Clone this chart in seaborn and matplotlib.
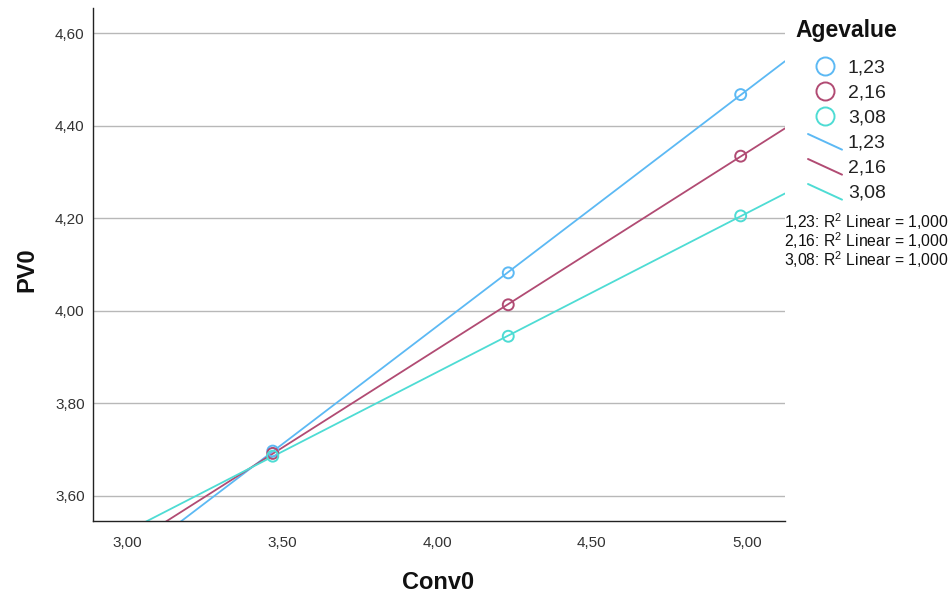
import numpy as np
import pandas as pd
import seaborn as sns
import matplotlib.pyplot as plt
from matplotlib.lines import Line2D
from matplotlib.legend_handler import HandlerBase

# ---- data ----
age_levels = ["1,23", "2,16", "3,08"]
conv0 = [3.47, 4.23, 4.98]
pv0_age1 = [3.697, 4.082, 4.467]
pv0_age2 = [3.692, 4.013, 4.334]
pv0_age3 = [3.686, 3.945, 4.205]
r2_labels = ["1,23: $\\mathregular{R^2}$ Linear = 1,000",
             "2,16: $\\mathregular{R^2}$ Linear = 1,000",
             "3,08: $\\mathregular{R^2}$ Linear = 1,000"]
xticks = [3.0, 3.5, 4.0, 4.5, 5.0]
xticklabels = ["3,00", "3,50", "4,00", "4,50", "5,00"]
yticks = [3.6, 3.8, 4.0, 4.2, 4.4, 4.6]
yticklabels = ["3,60", "3,80", "4,00", "4,20", "4,40", "4,60"]
colors = ["#5CB9F4", "#B14B73", "#4EDCD4"]

df = pd.DataFrame({
    "Conv0": conv0 * 3,
    "PV0": pv0_age1 + pv0_age2 + pv0_age3,
    "Agevalue": [a for a in age_levels for _ in conv0],
})

sns.set_theme(style="white")
plt.rcParams['font.family'] = ['Liberation Sans', 'DejaVu Sans']
plt.rcParams['mathtext.fontset'] = 'custom'
plt.rcParams['mathtext.rm'] = 'Liberation Sans'

fig = plt.figure(figsize=(9.51, 5.97), dpi=100)
ax = fig.add_axes([93 / 951, 1 - 521 / 597, 692 / 951, 513 / 597])
ax.set_xlim(2.89, 5.123)
ax.set_ylim(3.546, 4.654)

ax.set_yticks(yticks)
ax.set_yticklabels(yticklabels)
ax.set_xticks(xticks)
ax.set_xticklabels(xticklabels)
ax.yaxis.grid(True, color="#B8B8B8", lw=1.0)
ax.xaxis.grid(False)
ax.set_axisbelow(True)

for lvl, c in zip(age_levels, colors):
    sub = df[df["Agevalue"] == lvl]
    sns.regplot(data=sub, x="Conv0", y="PV0", scatter=False, ci=None,
                truncate=False, color=c, line_kws=dict(lw=1.3), ax=ax)
for lvl, c in zip(age_levels, colors):
    sub = df[df["Agevalue"] == lvl]
    sns.scatterplot(data=sub, x="Conv0", y="PV0", s=62, marker="o",
                    facecolor="none", edgecolor=c, linewidth=1.4,
                    legend=False, ax=ax, zorder=5)

ax.set_xlim(2.89, 5.123)
ax.set_ylim(3.546, 4.654)

for s in ["top", "right"]:
    ax.spines[s].set_visible(False)
for s in ["left", "bottom"]:
    ax.spines[s].set_color("#222222")
    ax.spines[s].set_linewidth(1.0)

ax.tick_params(axis="both", length=0, labelsize=11, colors="#333333")
ax.tick_params(axis="x", pad=11)
ax.tick_params(axis="y", pad=6)

ax.set_xlabel("Conv0", fontsize=17, fontweight="bold", color="#111111")
ax.set_ylabel("PV0", fontsize=17, fontweight="bold", color="#111111")
ax.xaxis.set_label_coords(0.499, -0.097)
ax.yaxis.set_label_coords(-0.079, 0.49)


class DiagHandler(HandlerBase):
    def create_artists(self, legend, orig_handle, xdescent, ydescent,
                       width, height, fontsize, trans):
        line = Line2D([-xdescent, -xdescent + width],
                      [-ydescent + height * 1.0, -ydescent - height * 0.15],
                      color=orig_handle.get_color(),
                      lw=orig_handle.get_linewidth())
        line.set_transform(trans)
        return [line]


marker_handles = [Line2D([], [], marker="o", ls="none", mfc="none", mec=c,
                         ms=13, mew=1.4) for c in colors]
line_handles = [Line2D([], [], color=c, lw=1.4) for c in colors]
handles = marker_handles + line_handles
labels = age_levels + age_levels
hmap = {h: DiagHandler() for h in line_handles}

leg = fig.legend(handles, labels, loc="upper left",
                 bbox_to_anchor=(808 / 951, 1 - 59 / 597), frameon=False,
                 fontsize=14, labelspacing=0.38, handlelength=1.75,
                 handletextpad=0.3, borderpad=0, borderaxespad=0,
                 handler_map=hmap)
for t in leg.get_texts():
    t.set_color("#222222")

fig.text(795 / 951, 1 - 31 / 597, "Agevalue", ha="left", va="center",
         fontsize=16.5, fontweight="bold", color="#111111")

for i, lab in enumerate(r2_labels):
    fig.text(948 / 951, 1 - (222 + 19 * i) / 597, lab, ha="right",
             va="center", fontsize=11.3, color="#111111")

fig.savefig("out.png", dpi=100)
